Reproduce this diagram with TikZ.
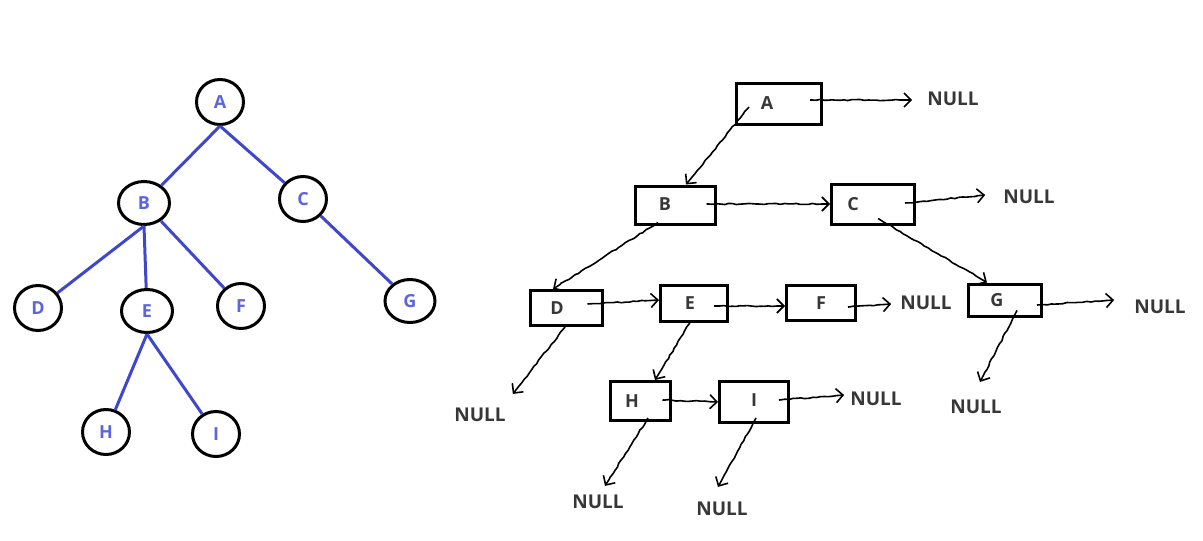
\documentclass[tikz,border=0pt]{standalone}
\usepackage{fontspec}
\setmainfont{Open Sans}
\usetikzlibrary{calc,arrows.meta,shapes.geometric,decorations.pathmorphing}

\definecolor{edgeblue}{RGB}{63,72,204}
\definecolor{letterblue}{RGB}{92,100,222}
\definecolor{darktext}{RGB}{55,55,55}

\tikzset{
  tnode/.style={draw,ellipse,line width=3pt,inner sep=0pt,minimum width=47pt,minimum height=45pt,
    text=letterblue,font=\fontsize{18}{18}\selectfont\bfseries},
  tedge/.style={edgeblue,line width=3pt},
  rbox/.style={draw,line width=3pt,inner sep=0pt,text=darktext,font=\fontsize{18}{18}\selectfont\bfseries},
  nulltext/.style={inner sep=0pt,text=darktext,font=\fontsize{19}{19}\selectfont\bfseries},
  hand/.style={line width=1.6pt,-{Straight Barb[length=7pt,width=14pt,line width=1.6pt]},
    decorate,decoration={random steps,segment length=4pt,amplitude=0.6pt,pre length=2pt,post length=8pt}}
}

\begin{document}
\begin{tikzpicture}[x=1pt,y=-1pt]
      \useasboundingbox (0,0) rectangle (1203,541);
      \node [tnode] (A) at (220,102) {A};
      \node [tnode,minimum width=51pt,minimum height=43pt] (B) at (144,203) {B};
      \node [tnode] (C) at (303,199) {C};
      \node [tnode] (D) at (38,308) {D};
      \node [tnode,minimum width=51pt,minimum height=43pt] (E) at (147,311) {E};
      \node [tnode] (F) at (241,306) {F};
      \node [tnode,minimum width=50pt,minimum height=43pt] (G) at (410,301) {G};
      \node [tnode] (H) at (106,432) {H};
      \node [tnode] (I) at (216,434) {I};
      \draw [tedge] (A.south) -- (B);
      \draw [tedge] (A.south) -- (C);
      \draw [tedge] (B.south) -- (D);
      \draw [tedge] (B.south) -- (E);
      \draw [tedge] (B) -- (F);
      \draw [tedge] (C) -- (G);
      \draw [tedge] (E.south) -- (H);
      \draw [tedge] (E.south) -- (I);

      \node [rbox,minimum width=85pt,minimum height=41pt] (rA) at (779,104) {\raisebox{2pt}{A}\kern24pt};
      \node [rbox,minimum width=80pt,minimum height=38pt] (rB) at (675,205) {\raisebox{2pt}{B}\kern20pt};
      \node [rbox,minimum width=83pt,minimum height=40pt] (rC) at (873,204) {C\kern40pt};
      \node [rbox,minimum width=72pt,minimum height=35pt] (rD) at (566,308) {\raisebox{-4pt}{D}\kern18pt};
      \node [rbox,minimum width=67pt,minimum height=36pt] (rE) at (694,303) {E\kern8pt};
      \node [rbox,minimum width=69pt,minimum height=35pt] (rF) at (821,303) {F};
      \node [rbox,minimum width=73pt,minimum height=32pt] (rG) at (1005,300) {G\kern16pt};
      \node [rbox,minimum width=60pt,minimum height=39pt] (rH) at (640,401) {H\kern16pt};
      \node [rbox,minimum width=69pt,minimum height=41pt] (rI) at (754,402) {\raisebox{3pt}{I}};

      \node [nulltext] (nA) at (953,99) {NULL};
      \node [nulltext] (nC) at (1029,197) {NULL};
      \node [nulltext] (nF) at (926,303) {NULL};
      \node [nulltext] (nG) at (1160,307) {NULL};
      \node [nulltext] (nGd) at (976,407) {NULL};
      \node [nulltext] (nI) at (876,399) {NULL};
      \node [nulltext] (nD) at (480,415) {NULL};
      \node [nulltext] (nH) at (598,502) {NULL};
      \node [nulltext] (nId) at (722,509) {NULL};

      \draw [hand] ($(rA.west)+(14,3)$) -- ($(rB.north)+(11,0)$);
      \draw [hand] ($(rA.east)+(-13,-4)$) -- ($(nA.west)+(-15,1)$);
      \draw [hand] ($(rB.east)+(-10,-1)$) -- (rC.west);
      \draw [hand] ($(rB.south)+(-17,-3)$) -- ($(rD.north)+(-13,0)$);
      \draw [hand] ($(rC.east)+(-11,-1)$) -- ($(nC.west)+(-18,-2)$);
      \draw [hand] ($(rC.south)+(5,-7)$) -- ($(rG.north)+(-18,0)$);
      \draw [hand] ($(rD.east)+(-16,-4)$) -- ($(rE.west)+(0,-3)$);
      \draw [hand] ($(rD.south)+(-1,0)$) -- ($(nD.north east)+(7,-14)$);
      \draw [hand] ($(rE.east)+(-15,3)$) -- ($(rF.west)+(0,3)$);
      \draw [hand] ($(rE.south)+(-4,0)$) -- ($(rH.north)+(15,0)$);
      \draw [hand] ($(rF.east)+(-9,4)$) -- ($(nF.west)+(-9,1)$);
      \draw [hand] ($(rG.east)+(-6,5)$) -- ($(nG.west)+(-20,-7)$);
      \draw [hand] ($(rG.south)+(12,-7)$) -- ($(nGd.north)+(4,-18)$);
      \draw [hand] ($(rH.east)+(-9,-1)$) -- (rI.west);
      \draw [hand] ($(rH.south)+(8,-4)$) -- ($(nH.north)+(7,-9)$);
      \draw [hand] ($(rI.east)+(-11,-2)$) -- ($(nI.west)+(-6,-4)$);
      \draw [hand] ($(rI.south)+(2,-6)$) -- ($(nId.north)+(-4,-15)$);
    \end{tikzpicture}
\end{document}
